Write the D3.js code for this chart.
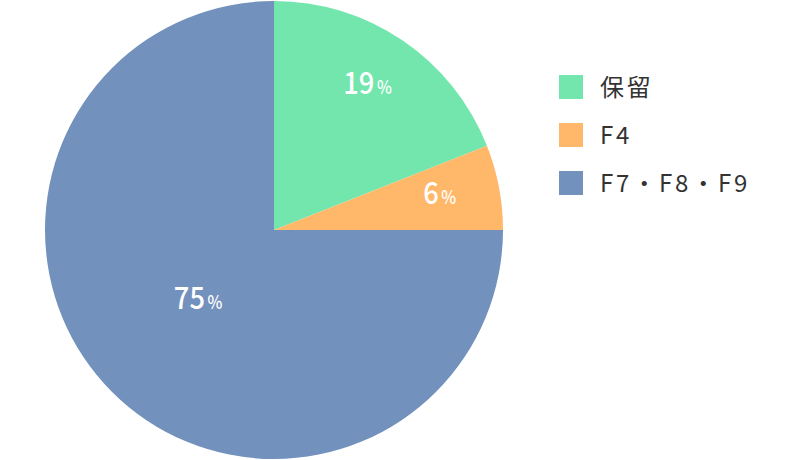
<!DOCTYPE html>
<html><head><meta charset="utf-8">
<script src="https://cdn.jsdelivr.net/npm/d3@7"></script>
<style>body{margin:0;background:#fff}svg{display:block}</style>
</head><body>
<svg id="c" width="796" height="460"></svg>
<script>
const categories = ["保留", "F4", "F7・F8・F9"];
const values = [19, 6, 75];
const colors = ["#73E6AE", "#FFB869", "#7391BD"];

const svg = d3.select("#c");
const W = 796, H = 460;
const cx = 274, cy = 230, R = 229;
const font = "'Noto Sans CJK JP','Noto Sans',sans-serif";

const data = categories.map((c, i) => ({name: c, value: values[i], color: colors[i]}));
const pie = d3.pie().sort(null).value(d => d.value);
const arcs = pie(data);
const arc = d3.arc().innerRadius(0).outerRadius(R);
const g = svg.append("g").attr("transform", `translate(${cx},${cy})`);
g.selectAll("path").data(arcs).join("path")
  .attr("d", arc).attr("fill", d => d.data.color);

const labelArc = d => {
  const frac = d.data.value / d3.sum(values);
  const r = frac > 0.5 ? R * 0.45 : R * 0.75;
  return d3.arc().innerRadius(r).outerRadius(r).centroid(d);
};
const lab = g.selectAll("text.lab").data(arcs).join("text")
  .attr("class", "lab")
  .attr("transform", d => { const [x, y] = labelArc(d); return `translate(${x - 3},${y}) scale(0.88,1)`; })
  .attr("text-anchor", "middle").attr("dy", "0.36em")
  .attr("fill", "#fff").style("font-family", font).style("font-weight", 500);
lab.append("tspan").style("font-size", "31px").text(d => d.data.value);
lab.append("tspan").style("font-size", "18px").attr("dx", 3).text("%");

const leg = svg.append("g").attr("transform", "translate(559,75)");
const items = leg.selectAll("g").data(data).join("g")
  .attr("transform", (d, i) => `translate(0,${i * 48})`);
items.append("rect").attr("width", 24).attr("height", 24).attr("fill", d => d.color);
items.append("text").attr("x", 41).attr("y", 12).attr("dy", "0.36em")
  .attr("fill", "#333").style("font-family", font).style("font-size", "24px")
  .style("letter-spacing", "2.8px").text(d => d.name);
</script>
</body></html>
